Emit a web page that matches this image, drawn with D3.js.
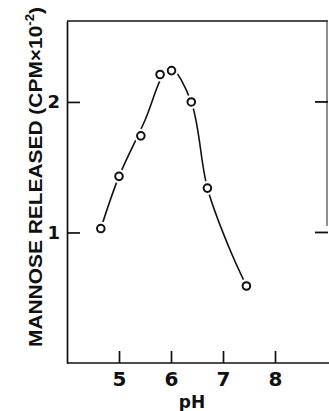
<!DOCTYPE html>
<html>
<head>
<meta charset="utf-8">
<script src="https://cdn.jsdelivr.net/npm/d3@7"></script>
<style>
  body { margin: 0; background: #fff; }
  svg { display: block; }
  text { font-family: "Liberation Sans", Arial, sans-serif; font-weight: bold; fill: #111; }
</style>
</head>
<body>
<div id="chart"></div>
<script>
// measured points (pH, mannose released, CPM x 10^-2)
const ph = [4.65, 5.0, 5.42, 5.79, 6.01, 6.39, 6.70, 7.45];
const mannose = [1.03, 1.43, 1.74, 2.21, 2.24, 2.00, 1.34, 0.59];

// hand drawn curve through the points
const curvePh = [4.65, 5.0, 5.5, 5.85, 6.0, 6.39, 6.70, 7.1, 7.45];
const curveVal = [1.03, 1.43, 1.86, 2.21, 2.26, 2.00, 1.34, 0.90, 0.59];

const xTicks = [5, 6, 7, 8];
const yTicks = [1, 2];

const width = 329, height = 411;

const svg = d3.select("#chart")
  .append("svg")
  .attr("width", width)
  .attr("height", height);

const x = d3.scaleLinear().domain([4, 9]).range([67, 327]);
const y = d3.scaleLinear().domain([0, 2.62]).range([363, 21]);

// frame top and right
svg.append("line")
  .attr("x1", x(4)).attr("x2", x(9) + 1)
  .attr("y1", y(2.62)).attr("y2", y(2.62))
  .attr("stroke", "#111").attr("stroke-width", 1.6);

svg.append("line")
  .attr("x1", x(9)).attr("x2", x(9))
  .attr("y1", y(2.62)).attr("y2", y(1.05))
  .attr("stroke", "#444").attr("stroke-width", 1.2);

// right side ticks
svg.append("g")
  .selectAll("line")
  .data(yTicks)
  .enter()
  .append("line")
  .attr("x1", x(9) - 12).attr("x2", x(9) + 1)
  .attr("y1", d => y(d)).attr("y2", d => y(d))
  .attr("stroke", "#111").attr("stroke-width", 1.8);

const xAxis = svg.append("g")
  .attr("transform", "translate(0," + y(0) + ")")
  .call(d3.axisBottom(x).tickValues(xTicks).tickFormat(d3.format("d"))
    .tickSize(-12).tickPadding(9).tickSizeOuter(0));

const yAxis = svg.append("g")
  .attr("transform", "translate(" + x(4) + ",0)")
  .call(d3.axisLeft(y).tickValues(yTicks).tickFormat(d3.format("d"))
    .tickSize(-13).tickPadding(7).tickSizeOuter(0));

xAxis.select(".domain").attr("d", "M" + x(4) + ",0H" + (x(9) + 2));
xAxis.selectAll("path, line").attr("stroke", "#111").attr("stroke-width", 1.7);
yAxis.selectAll("path, line").attr("stroke", "#111").attr("stroke-width", 1.7);

xAxis.selectAll("text")
  .style("font-size", "20px")
  .style("font-family", "'DejaVu Sans', sans-serif")
  .style("font-weight", "bold")
  .attr("fill", "#111");

yAxis.selectAll("text")
  .style("font-size", "18px")
  .style("font-family", "'DejaVu Sans', sans-serif")
  .style("font-weight", "bold")
  .attr("fill", "#111");

// curve
const curveData = curvePh.map((d, i) => [d, curveVal[i]]);
svg.append("path")
  .datum(curveData)
  .attr("fill", "none")
  .attr("stroke", "#111")
  .attr("stroke-width", 1.6)
  .attr("d", d3.line()
    .x(d => x(d[0]))
    .y(d => y(d[1]))
    .curve(d3.curveCatmullRom.alpha(0.5)));

const pts = ph.map((d, i) => [d, mannose[i]]);

// white gap round each marker
svg.append("g")
  .selectAll("circle")
  .data(pts)
  .enter()
  .append("circle")
  .attr("cx", d => x(d[0]))
  .attr("cy", d => y(d[1]))
  .attr("r", 7)
  .attr("fill", "#fff");

svg.append("g")
  .selectAll("circle")
  .data(pts)
  .enter()
  .append("circle")
  .attr("cx", d => x(d[0]))
  .attr("cy", d => y(d[1]))
  .attr("r", 3.8)
  .attr("fill", "#fff")
  .attr("stroke", "#111")
  .attr("stroke-width", 2);

// axis titles
svg.append("text")
  .attr("x", 192)
  .attr("y", 408)
  .attr("text-anchor", "middle")
  .style("font-size", "17px")
  .style("font-family", "'DejaVu Sans', sans-serif")
  .text("pH");

const yl = svg.append("text")
  .attr("transform", "translate(42,347) rotate(-90)")
  .attr("text-anchor", "start")
  .style("font-size", "19px")
  .attr("textLength", 340)
  .attr("lengthAdjust", "spacingAndGlyphs");

yl.append("tspan").text("MANNOSE RELEASED (CPM\u00d710");
yl.append("tspan").attr("dy", -8).style("font-size", "12px").text("-2");
yl.append("tspan").attr("dy", 8).text(")");
</script>
</body>
</html>
